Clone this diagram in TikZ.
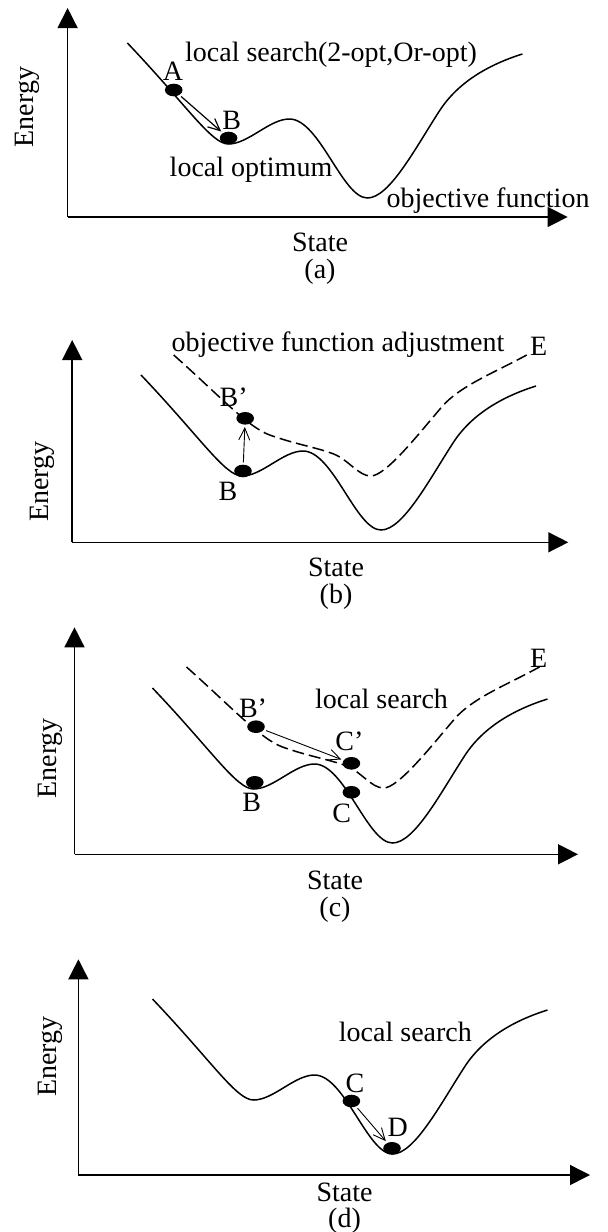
\documentclass[tikz,border=0pt]{standalone}
\usepackage{fontspec}
\setmainfont{Liberation Serif}
\usetikzlibrary{arrows.meta,shapes.geometric}
\tikzset{
  axisarr/.style={-{Triangle[length=10pt,width=10pt]}, line width=0.75pt},
  searcharr/.style={-{Straight Barb[length=6pt,width=5.5pt]}, line width=0.45pt, shorten <=1pt, shorten >=1pt},
  curveline/.style={line width=0.75pt},
  adjline/.style={line width=0.75pt, dash pattern=on 6pt off 2.5pt},
  dot/.style={ellipse, fill=black, inner sep=0pt, minimum width=8.8pt, minimum height=6.3pt},
  lbl/.style={inner sep=0pt, font=\fontsize{14}{16}\selectfont},
  energycurve/.pic={
    \draw[curveline] (0,0) .. controls (59,-62) and (84,-101) .. (101,-101)
      .. controls (121,-101) and (142,-76) .. (162,-76)
      .. controls (192,-76) and (215,-155) .. (240,-155)
      .. controls (262,-155) and (288,-105) .. (312,-68)
      .. controls (330,-40) and (360,-22) .. (395,-11);
  },
  adjustedcurve/.pic={
    \draw[adjline] (0,0) .. controls (45,-40) and (74,-72) .. (96,-80)
      .. controls (121,-89) and (145,-93) .. (160,-99)
      .. controls (175,-105) and (185,-121) .. (197,-121)
      .. controls (212,-121) and (244,-80) .. (268,-52)
      .. controls (286,-31) and (320,-18) .. (353,0);
  }
}

\begin{document}
\begin{tikzpicture}[x=0.5pt,y=0.5pt]
  \useasboundingbox (0,0) rectangle (607,-1232);

  % (a) local search down to the local optimum
  \coordinate (aO) at (67.6,-217);
  \coordinate (aY) at (67.6,-8);
  \coordinate (aX) at (567.6,-217);
  \draw[axisarr] (aO) -- (aY);
  \draw[axisarr] (aO) -- (aX);
  \pic at (127.4,-43) {energycurve};
  \node[lbl, rotate=90] (aEnergy) at (27,-107) {Energy};
  \node[lbl] (aState) at (320,-242.7) {State};
  \node[lbl] (aCap) at (320,-271.7) {(a)};
  \node[dot] (aA) at (173.7,-90) {};
  \node[dot] (aB) at (228.6,-138) {};
  \node[lbl] (aAl) at (173,-71.7) {A};
  \node[lbl] (aBl) at (231.7,-120) {B};
  \draw[searcharr, line width=0.6pt] (aA) -- (aB);
  \node[lbl] (aSearch) at (331,-55) {local search(2-opt,Or-opt)};
  \node[lbl] (aOpt) at (251,-169.3) {local optimum};
  \node[lbl] (aObj) at (488,-200.7) {objective function};

  % (b) objective function adjustment
  \coordinate (bO) at (72.2,-542.3);
  \coordinate (bY) at (72.2,-340);
  \coordinate (bX) at (568.3,-542.3);
  \draw[axisarr] (bO) -- (bY);
  \draw[axisarr] (bO) -- (bX);
  \pic at (141,-375) {energycurve};
  \pic at (173.7,-355) {adjustedcurve};
  \node[lbl, rotate=90] (bEnergy) at (42.5,-481.7) {Energy};
  \node[lbl] (bState) at (336,-567) {State};
  \node[lbl] (bCap) at (336,-597) {(b)};
  \node[dot] (bB) at (243,-471) {};
  \node[dot] (bBp) at (245.2,-418.3) {};
  \node[lbl] (bBl) at (228,-491.7) {B};
  \node[lbl] (bBpl) at (233.6,-397.3) {B’};
  \draw[searcharr] (bB) -- (bBp);
  \node[lbl] (bAdj) at (338,-345) {objective function adjustment};
  \node[lbl] (bE) at (538.6,-346) {E};

  % (c) local search on the adjusted function
  \coordinate (cO) at (74.5,-854.3);
  \coordinate (cY) at (74.5,-627.3);
  \coordinate (cX) at (578,-854.3);
  \draw[axisarr] (cO) -- (cY);
  \draw[axisarr] (cO) -- (cX);
  \pic at (152.5,-688) {energycurve};
  \pic at (186.5,-667) {adjustedcurve};
  \node[lbl, rotate=90] (cEnergy) at (50,-758.3) {Energy};
  \node[lbl] (cState) at (335,-880) {State};
  \node[lbl] (cCap) at (335,-910) {(c)};
  \node[dot] (cB) at (254.8,-782.3) {};
  \node[dot] (cBp) at (256,-726.7) {};
  \node[dot] (cCp) at (351.4,-763.3) {};
  \node[dot] (cC) at (351.4,-792.3) {};
  \node[lbl] (cBl) at (251.7,-802.7) {B};
  \node[lbl] (cBpl) at (253,-708.3) {B’};
  \node[lbl] (cCpl) at (349.4,-741.7) {C’};
  \node[lbl] (cCl) at (341.7,-813.3) {C};
  \draw[searcharr] (cBp) -- (cCp);
  \node[lbl] (cSearch) at (381.5,-699) {local search};
  \node[lbl] (cE) at (538.6,-658.3) {E};

  % (d) back on the objective function
  \coordinate (dO) at (78.4,-1175);
  \coordinate (dY) at (78.4,-959.3);
  \coordinate (dX) at (590,-1175);
  \draw[axisarr] (dO) -- (dY);
  \draw[axisarr] (dO) -- (dX);
  \pic at (152.5,-999) {energycurve};
  \node[lbl, rotate=90] (dEnergy) at (50,-1056.7) {Energy};
  \node[lbl] (dState) at (344.5,-1192) {State};
  \node[lbl] (dCap) at (344.5,-1221) {(d)};
  \node[dot] (dC) at (351.4,-1101) {};
  \node[dot] (dD) at (392,-1148.3) {};
  \node[lbl] (dCl) at (355,-1083.3) {C};
  \node[lbl] (dDl) at (397.7,-1127.7) {D};
  \draw[searcharr] (dC) -- (dD);
  \node[lbl] (dSearch) at (405.4,-1031.7) {local search};
\end{tikzpicture}
\end{document}
